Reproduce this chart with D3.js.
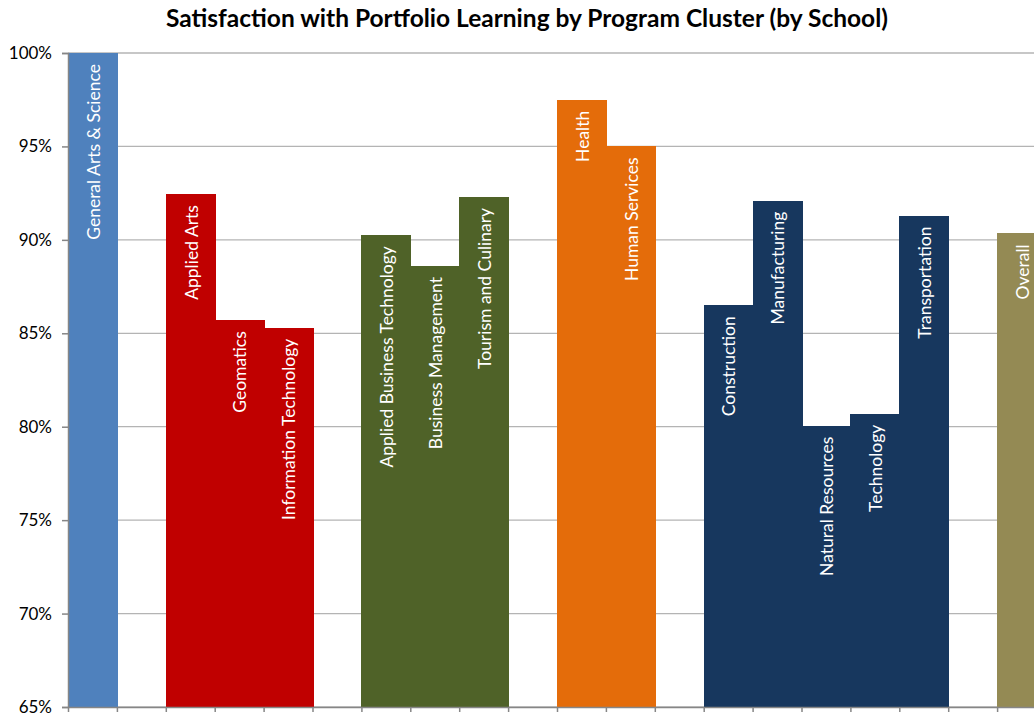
<!DOCTYPE html>
<html>
<head>
<meta charset="utf-8">
<script src="https://cdn.jsdelivr.net/npm/d3@7"></script>
<style>
  body { margin: 0; background: #fff; }
  svg { display: block; font-family: Lato, "Open Sans", sans-serif; }
</style>
</head>
<body>
<svg width="1034" height="715"></svg>
<script>
// one slot per column, null = empty gap between schools
let programs = [
  "General Arts & Science", null,
  "Applied Arts", "Geomatics", "Information Technology", null,
  "Applied Business Technology", "Business Management", "Tourism and Culinary", null,
  "Health", "Human Services", null,
  "Construction", "Manufacturing", "Natural Resources", "Technology", "Transportation", null,
  "Overall"
];
let satisfaction = [
  1.000, null,
  0.9245, 0.857, 0.853, null,
  0.9025, 0.886, 0.923, null,
  0.975, 0.950, null,
  0.865, 0.921, 0.8005, 0.807, 0.913, null,
  0.9035
];
let schools = [
  "GAS", null,
  "Arts", "Arts", "Arts", null,
  "Business", "Business", "Business", null,
  "Health", "Health", null,
  "Trades", "Trades", "Trades", "Trades", "Trades", null,
  "Overall"
];
let schoolColors = {
  GAS: "#4f81bd",
  Arts: "#c00000",
  Business: "#4f6228",
  Health: "#e46c0a",
  Trades: "#17375e",
  Overall: "#948a54"
};
let yTicks = [0.65, 0.70, 0.75, 0.80, 0.85, 0.90, 0.95, 1.00];

let svg = d3.select("svg");
let plotLeft = 68, plotTop = 53, plotBottom = 707;
let slotW = 48.9;
let plotRight = plotLeft + programs.length * slotW;

let x = d3.scaleBand()
  .domain(d3.range(programs.length))
  .range([plotLeft, plotRight])
  .padding(0);

let xEdges = d3.scaleLinear()
  .domain([0, programs.length])
  .range([plotLeft, plotRight]);

let y = d3.scaleLinear()
  .domain([0.65, 1.0])
  .range([plotBottom, plotTop]);

// gridlines
svg.append("g")
  .selectAll("line")
  .data(yTicks)
  .enter()
  .append("line")
  .attr("x1", plotLeft)
  .attr("x2", plotRight)
  .attr("y1", (d) => y(d))
  .attr("y2", (d) => y(d))
  .style("stroke", "#b4b4b4")
  .attr("stroke-width", 1.3);

let data = programs.map((p, i) => ({ name: p, value: satisfaction[i], school: schools[i], i: i }))
  .filter((d) => d.name !== null);

svg.append("g")
  .selectAll("rect")
  .data(data)
  .enter()
  .append("rect")
  .attr("x", (d) => x(d.i))
  .attr("width", x.bandwidth() + 1)
  .attr("y", (d) => y(d.value))
  .attr("height", (d) => plotBottom - y(d.value))
  .attr("fill", (d) => schoolColors[d.school])
  .attr("shape-rendering", "crispEdges");

// labels inside bars
svg.append("g")
  .selectAll("text")
  .data(data)
  .enter()
  .append("text")
  .attr("transform", (d) => `translate(${x(d.i) + x.bandwidth() / 2 + 1},${y(d.value) + 11}) rotate(-90)`)
  .attr("text-anchor", "end")
  .attr("dy", "0.36em")
  .attr("fill", "#fff")
  .style("font-size", "17.5px")
  .text((d) => d.name);

// y axis
let yAxis = svg.append("g")
  .attr("transform", `translate(${plotLeft},0)`)
  .call(d3.axisLeft(y).tickValues(yTicks).tickFormat(d3.format(".0%")).tickSize(6).tickPadding(10));
yAxis.selectAll("path, line").style("stroke", "#868686").attr("stroke-width", 1.5);
yAxis.selectAll("text").style("font-size", "17px").style("font-family", "Lato, sans-serif").attr("fill", "#000");

// x axis, ticks on slot edges
let xAxis = svg.append("g")
  .attr("transform", `translate(0,${plotBottom})`)
  .call(d3.axisBottom(xEdges).tickValues(d3.range(programs.length + 1)).tickFormat("").tickSize(5).tickSizeOuter(0));
xAxis.selectAll("path, line").style("stroke", "#868686").attr("stroke-width", 1.5);

// title
svg.append("text")
  .attr("x", 527)
  .attr("y", 27)
  .attr("text-anchor", "middle")
  .style("font-size", "24.5px")
  .style("font-weight", "bold")
  .text("Satisfaction with Portfolio Learning by Program Cluster (by School)");
</script>
</body>
</html>
